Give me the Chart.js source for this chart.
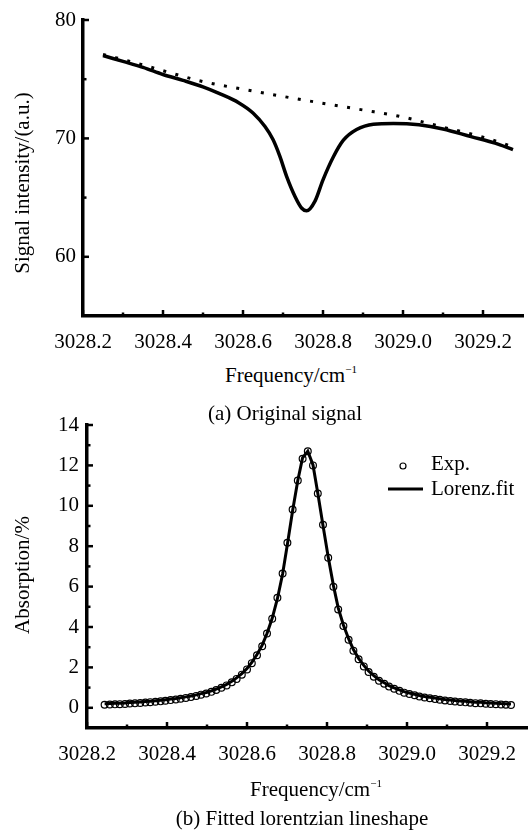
<!DOCTYPE html>
<html>
<head>
<meta charset="utf-8">
<title>Signal and Lorentzian fit</title>
<script src="https://cdn.jsdelivr.net/npm/chart.js@4"></script>
<style>
  body { margin: 0; background: #fff; }
  #page { position: relative; width: 528px; height: 837px; font-family: "Liberation Serif", "Times New Roman", serif; color: #000; }
  canvas { position: absolute; left: 0; }
  .txt { position: absolute; font-size: 21px; line-height: 21px; white-space: nowrap; transform: translateX(-50%); }
  .ytitle { transform: translate(-50%, -50%) rotate(-90deg); }
  sup { font-size: 11px; line-height: 0; vertical-align: 9px; }
</style>
</head>
<body>
<div id="page">
  <canvas id="signalChart" width="528" height="360" style="top:0"></canvas>
  <canvas id="absChart" width="528" height="380" style="top:400px"></canvas>

  <div class="txt ytitle" style="left:22px; top:183px">Signal intensity/(a.u.)</div>
  <div class="txt" style="left:291px; top:365px">Frequency/cm<sup>−1</sup></div>
  <div class="txt" style="left:285px; top:403px">(a) Original signal</div>

  <div class="txt ytitle" style="left:22px; top:575px">Absorption/%</div>
  <div class="txt" style="left:316px; top:779px">Frequency/cm<sup>−1</sup></div>
  <div class="txt" style="left:302px; top:808px">(b) Fitted lorentzian lineshape</div>
</div>

<script>
// (a) raw signal and its baseline
const sigFreq = [3028.25, 3028.30, 3028.35, 3028.40, 3028.45, 3028.50, 3028.54, 3028.59, 3028.625, 3028.655,
  3028.675, 3028.692, 3028.709, 3028.73, 3028.747, 3028.759, 3028.78, 3028.80, 3028.826, 3028.851,
  3028.884, 3028.926, 3028.976, 3029.04, 3029.10, 3029.17, 3029.23, 3029.275];
const sigValue = [77.0, 76.5, 76.0, 75.4, 74.9, 74.35, 73.8, 73.0, 72.15, 71.0,
  69.9, 68.5, 66.8, 65.1, 64.1, 63.88, 64.7, 66.5, 68.45, 69.85,
  70.75, 71.2, 71.26, 71.15, 70.8, 70.15, 69.6, 69.05];
const baseFreq = [3028.25, 3028.35, 3028.5, 3028.6, 3028.75, 3028.9, 3029.0, 3029.1, 3029.2, 3029.275];
const baseValue = [77.1, 76.2, 74.8, 74.15, 73.25, 72.4, 71.8, 70.95, 70.1, 69.3];

// (b) absorption points and Lorentz fit
const absFreq = [
  3028.244, 3028.257, 3028.270, 3028.282, 3028.295, 3028.307, 3028.320, 3028.333, 3028.346, 3028.358,
  3028.371, 3028.384, 3028.396, 3028.409, 3028.422, 3028.434, 3028.447, 3028.460, 3028.473, 3028.485,
  3028.498, 3028.511, 3028.523, 3028.536, 3028.549, 3028.562, 3028.574, 3028.587, 3028.600, 3028.612,
  3028.625, 3028.638, 3028.650, 3028.663, 3028.676, 3028.689, 3028.701, 3028.714, 3028.727, 3028.739,
  3028.752,
  3028.765, 3028.777, 3028.790, 3028.803, 3028.816, 3028.828, 3028.841, 3028.854, 3028.866, 3028.879,
  3028.892, 3028.904, 3028.917, 3028.930, 3028.943, 3028.955, 3028.968, 3028.981, 3028.993, 3029.006,
  3029.019, 3029.031, 3029.044, 3029.057, 3029.070, 3029.082, 3029.095, 3029.108, 3029.120, 3029.133,
  3029.146, 3029.158, 3029.171, 3029.184, 3029.197, 3029.209, 3029.222, 3029.235, 3029.247, 3029.260
];
const absExp = [
  0.15, 0.16, 0.17, 0.18, 0.19, 0.21, 0.22, 0.24, 0.26, 0.28,
  0.30, 0.32, 0.35, 0.38, 0.41, 0.45, 0.49, 0.53, 0.59, 0.65,
  0.71, 0.79, 0.88, 0.99, 1.11, 1.26, 1.43, 1.64, 1.90, 2.21,
  2.60, 3.05, 3.68, 4.41, 5.45, 6.65, 8.17, 9.82, 11.25, 12.33,
  12.70,
  12.00, 10.61, 9.06, 7.43, 5.99, 4.87, 4.05, 3.37, 2.83, 2.40,
  2.05, 1.77, 1.54, 1.34, 1.19, 1.05, 0.94, 0.84, 0.75, 0.68,
  0.62, 0.56, 0.51, 0.47, 0.43, 0.40, 0.36, 0.34, 0.31, 0.29,
  0.27, 0.25, 0.23, 0.22, 0.20, 0.19, 0.18, 0.16, 0.15, 0.14
];
const absFit = [
  0.20, 0.21, 0.22, 0.23, 0.24, 0.26, 0.27, 0.29, 0.31, 0.33,
  0.35, 0.37, 0.40, 0.43, 0.46, 0.50, 0.54, 0.58, 0.64, 0.70,
  0.76, 0.84, 0.93, 1.04, 1.16, 1.31, 1.48, 1.69, 1.94, 2.25,
  2.64, 3.10, 3.68, 4.43, 5.40, 6.62, 8.10, 9.75, 11.25, 12.38,
  12.70,
  12.02, 10.62, 9.02, 7.46, 6.06, 4.95, 4.10, 3.42, 2.88, 2.45,
  2.10, 1.82, 1.59, 1.39, 1.24, 1.10, 0.99, 0.89, 0.80, 0.73,
  0.67, 0.61, 0.56, 0.52, 0.48, 0.45, 0.41, 0.39, 0.36, 0.34,
  0.32, 0.30, 0.28, 0.27, 0.25, 0.24, 0.23, 0.21, 0.20, 0.19
];

// tick values
const freqTicks = [3028.2, 3028.4, 3028.6, 3028.8, 3029.0, 3029.2];
const freqMinor = [3028.3, 3028.5, 3028.7, 3028.9, 3029.1];
const sigTicks = [60, 70, 80];
const sigMinor = [65, 75];
const absTicks = [0, 2, 4, 6, 8, 10, 12, 14];
const absMinor = [1, 3, 5, 7, 9, 11, 13];

const legendLabels = ["Exp.", "Lorenz.fit"];

Chart.defaults.font.family = '"Liberation Serif", "Times New Roman", serif';
Chart.defaults.font.size = 21;
Chart.defaults.color = "#000";

const toPoints = (xs, ys) => xs.map((x, i) => ({ x: x, y: ys[i] }));
const fixTicks = (values) => (scale) => { scale.ticks = values.map(v => ({ value: v })); };

// short tick marks pointing into the plot
const innerTicks = {
  id: "innerTicks",
  afterDraw(chart, args, opts) {
    const { ctx, scales: { x, y } } = chart;
    ctx.save();
    ctx.strokeStyle = "#000";
    ctx.lineWidth = 2.5;
    const mark = (scale, values, len) => {
      values.forEach(v => {
        const p = scale.getPixelForValue(v);
        ctx.beginPath();
        if (scale.isHorizontal()) {
          ctx.moveTo(p, scale.top);
          ctx.lineTo(p, scale.top - len);
        } else {
          ctx.moveTo(scale.right, p);
          ctx.lineTo(scale.right + len, p);
        }
        ctx.stroke();
      });
    };
    mark(x, opts.xMajor, 6);
    mark(x, opts.xMinor, 3.5);
    mark(y, opts.yMajor, 6);
    mark(y, opts.yMinor, 3.5);
    ctx.restore();
  }
};

// legend in the upper right corner of (b)
const cornerLegend = {
  id: "cornerLegend",
  afterDraw(chart) {
    const ctx = chart.ctx;
    const [exp, fit] = chart.data.datasets;
    ctx.save();
    ctx.strokeStyle = "#000";
    ctx.lineWidth = exp.borderWidth;
    ctx.beginPath();
    ctx.arc(403, 66, 3, 0, Math.PI * 2);
    ctx.stroke();
    ctx.lineWidth = fit.borderWidth;
    ctx.beginPath();
    ctx.moveTo(388, 89);
    ctx.lineTo(423, 89);
    ctx.stroke();
    ctx.fillStyle = "#000";
    ctx.font = '21px "Liberation Serif", "Times New Roman", serif';
    ctx.textBaseline = "alphabetic";
    ctx.fillText(exp.label, 431, 70);
    ctx.fillText(fit.label, 431, 95);
    ctx.restore();
  }
};

// the tick length (ticks themselves are hidden) sets the gap under the axis,
// so the label padding stays small and does not squeeze the plot sideways
function axes(xMin, xMax, yMin, yMax, yTicks, yWidth, xHeight, yPad) {
  return {
    x: {
      type: "linear",
      min: xMin,
      max: xMax,
      afterBuildTicks: fixTicks(freqTicks),
      afterFit(scale) { scale.height = xHeight; scale.paddingLeft = 0; scale.paddingRight = 0; },
      grid: { display: false, drawTicks: true, tickLength: 12 },
      border: { display: true, color: "#000", width: 3.5 },
      ticks: { padding: 2, maxRotation: 0, callback: v => v.toFixed(1) }
    },
    y: {
      type: "linear",
      min: yMin,
      max: yMax,
      afterBuildTicks: fixTicks(yTicks),
      afterFit(scale) { scale.width = yWidth; },
      grid: { display: false, drawTicks: false },
      border: { display: true, color: "#000", width: 3.5 },
      ticks: { padding: yPad, callback: v => String(v) }
    }
  };
}

new Chart(document.getElementById("signalChart"), {
  type: "scatter",
  data: {
    datasets: [
      {
        label: "Signal",
        data: toPoints(sigFreq, sigValue),
        showLine: true,
        borderColor: "#000",
        borderWidth: 3.5,
        pointRadius: 0,
        cubicInterpolationMode: "monotone"
      },
      {
        label: "Baseline",
        data: toPoints(baseFreq, baseValue),
        showLine: true,
        borderColor: "#000",
        borderWidth: 3,
        borderDash: [3, 9.5],
        pointRadius: 0,
        cubicInterpolationMode: "monotone"
      }
    ]
  },
  options: {
    responsive: false,
    animation: false,
    layout: { autoPadding: false, padding: { top: 20, right: 5, left: 0, bottom: 0 } },
    plugins: {
      legend: { display: false },
      tooltip: { enabled: false },
      innerTicks: { xMajor: freqTicks, xMinor: freqMinor, yMajor: sigTicks, yMinor: sigMinor }
    },
    scales: axes(3028.2, 3029.3, 55, 80, sigTicks, 83, 44, 7)
  },
  plugins: [innerTicks]
});

new Chart(document.getElementById("absChart"), {
  type: "scatter",
  data: {
    datasets: [
      {
        label: legendLabels[0],
        data: toPoints(absFreq, absExp),
        showLine: false,
        pointStyle: "circle",
        pointRadius: 3.4,
        borderColor: "#000",
        borderWidth: 1.2,
        backgroundColor: "rgba(255,255,255,0)",
        order: 0
      },
      {
        label: legendLabels[1],
        data: toPoints(absFreq, absFit),
        showLine: true,
        borderColor: "#000",
        borderWidth: 3,
        pointRadius: 0,
        order: 1
      }
    ]
  },
  options: {
    responsive: false,
    animation: false,
    layout: { autoPadding: false, padding: { top: 25, right: 1, left: 0, bottom: 0 } },
    plugins: {
      legend: { display: false },
      tooltip: { enabled: false },
      innerTicks: { xMajor: freqTicks, xMinor: freqMinor, yMajor: absTicks, yMinor: absMinor }
    },
    scales: axes(3028.2, 3029.3, -1, 14, absTicks, 87, 52, 8)
  },
  plugins: [innerTicks, cornerLegend]
});
</script>
</body>
</html>
